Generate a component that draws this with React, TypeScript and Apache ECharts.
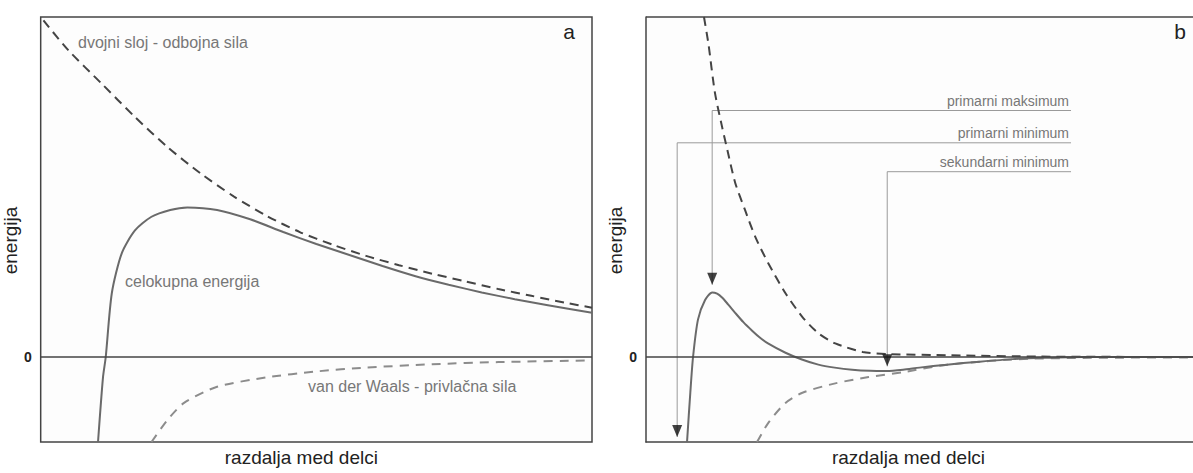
import React, { useEffect, useRef } from "react";
import * as echarts from "echarts";

// ---- data (x: relative distance 0..100, y: relative energy) ----
const repulsiveA = [[0.5,3.96],[5,3.61],[11,3.22],[17,2.83],[23,2.47],[29,2.16],[35,1.89],[41,1.66],[47,1.47],[53,1.32],[59,1.19],[65,1.08],[71,0.98],[77,0.89],[83,0.80],[89,0.72],[95,0.64],[100,0.58]];
const totalA = [[10.4,-1.0],[11.3,-0.24],[11.8,0],[12.9,0.75],[14.7,1.22],[17.1,1.49],[20.1,1.65],[23.5,1.73],[26.6,1.76],[32,1.73],[38,1.62],[44,1.47],[50,1.33],[56,1.2],[62,1.07],[68,0.95],[74,0.85],[80,0.76],[86,0.68],[92,0.61],[100,0.52]];
const vdwA = [[20.1,-1.0],[23,-0.74],[26,-0.54],[32,-0.35],[41,-0.24],[50,-0.17],[59,-0.125],[71,-0.085],[83,-0.06],[100,-0.04]];

const repulsiveB = [[10.6,4.0],[11.4,3.69],[12.6,3.11],[13.9,2.71],[15.0,2.40],[16.3,2.05],[18.1,1.73],[20.0,1.41],[22.3,1.11],[25.5,0.75],[28.6,0.47],[31.5,0.28],[34.6,0.16],[39.6,0.06],[44.3,0.035],[55.7,0.02],[72.2,0.005],[100,0]];
const totalB = [[7.5,-1.0],[8.1,-0.42],[8.6,0],[9.5,0.44],[10.8,0.67],[12.1,0.76],[13.0,0.745],[13.9,0.70],[15.0,0.62],[16.3,0.52],[17.8,0.41],[19.4,0.31],[20.8,0.23],[22.3,0.16],[25.5,0.05],[28.5,-0.03],[31.5,-0.09],[34.5,-0.125],[37.7,-0.15],[41,-0.163],[44,-0.165],[47,-0.15],[50,-0.125],[55,-0.09],[61,-0.055],[67,-0.025],[73,-0.01],[80,0],[100,0]];
const vdwB = [[20.3,-1.0],[22.3,-0.78],[25.5,-0.54],[28.6,-0.42],[34.6,-0.31],[40.7,-0.235],[46.9,-0.18],[55.1,-0.09],[70.3,-0.02],[100,-0.005]];

const annoMaxB = [[77.7,2.90],[12.1,2.90],[12.1,0.85]];
const annoPrimMinB = [[77.7,2.52],[5.7,2.52],[5.7,-0.94]];
const annoSecMinB = [[77.7,2.18],[44.1,2.18],[44.1,-0.11]];
const arrowTipsB = [[12.1,0.85],[5.7,-0.94],[44.1,-0.11]];

const yTicks = [-1, 0, 1, 2, 3, 4];
const xAxisTitle = "razdalja med delci";
const yAxisTitle = "energija";
const annoLabels = ["primarni maksimum", "primarni minimum", "sekundarni minimum"];
const panelLabels = ["a", "b"];
const curveLabelsA = ["dvojni sloj - odbojna sila", "celokupna energija", "van der Waals - privlačna sila"];

const FONT = "Liberation Sans, Arial, Helvetica, sans-serif";

export default function App() {
  const ref = useRef<HTMLDivElement>(null);
  useEffect(() => {
    if (!ref.current) return;
    const chart = echarts.init(ref.current, null, { renderer: "svg" });
    const axisLine = { show: true, onZero: false, lineStyle: { color: "#444", width: 1.5 } };
    const mkX = (gi: number, pad: number) => ({
      type: "value", gridIndex: gi, min: 0, max: 100,
      axisLine: gi === 1 ? axisLine : { show: false },
      axisTick: { show: false }, axisLabel: { show: false }, splitLine: { show: false },
      name: xAxisTitle, nameLocation: "middle", nameGap: 6,
      nameTextStyle: { fontSize: 19, color: "#222", fontFamily: FONT, padding: [0, pad, 0, 0] },
    });
    const mkY = (gi: number) => ({
      type: "value", gridIndex: gi, min: yTicks[0], max: yTicks[yTicks.length - 1], interval: 1,
      axisLine: gi === 1 ? axisLine : { show: false },
      axisTick: { show: false }, splitLine: { show: false },
      axisLabel: { formatter: (v: number) => (v === 0 ? "0" : ""), fontSize: 14, fontWeight: "bold", color: "#222", fontFamily: FONT, margin: 9 },
      name: yAxisTitle, nameLocation: "middle", nameRotate: 90, nameGap: 10,
      nameTextStyle: { fontSize: 19, color: "#222", fontFamily: FONT, padding: [0, 22, 0, 0] },
    });
    const refLines = (withTop: boolean) => ({
      silent: true, symbol: "none", label: { show: false },
      lineStyle: { color: "#444", width: 1.5, type: "solid" },
      data: withTop ? [{ yAxis: 0 }, { yAxis: yTicks[yTicks.length - 1] }] : [{ yAxis: 0 }],
    });
    const curve = (gi: number, data: number[][], color: string, type: any, extra: any = {}) => ({
      type: "line", xAxisIndex: gi, yAxisIndex: gi, data, smooth: 0.25,
      showSymbol: false, symbol: "none",
      lineStyle: { color, width: 2, type }, clip: true, z: 3, ...extra,
    });
    const anno = (data: number[][]) => ({
      type: "line", xAxisIndex: 1, yAxisIndex: 1, data, showSymbol: false, symbol: "none",
      lineStyle: { color: "#9a9a9a", width: 1 }, z: 2,
    });
    chart.setOption({
      animation: false,
      backgroundColor: "#fff",
      grid: [
        { left: 35, top: 17, width: 557, height: 425, show: true, borderColor: "#444", borderWidth: 1.5, backgroundColor: "#fdfdfd" },
        { left: 646, top: 17, width: 548, height: 425, show: true, borderWidth: 0, backgroundColor: "#fdfdfd" },
      ],
      xAxis: [mkX(0, 30), mkX(1, 22)],
      yAxis: [mkY(0), mkY(1)],
      series: [
        curve(0, repulsiveA, "#444", [9, 6], { markLine: refLines(false) }),
        curve(0, vdwA, "#8c8c8c", [9, 7]),
        curve(0, totalA, "#6a6a6a", "solid"),
        curve(1, repulsiveB, "#444", [9, 6], { markLine: refLines(true) }),
        curve(1, vdwB, "#8c8c8c", [9, 7]),
        curve(1, totalB, "#6a6a6a", "solid"),
        anno(annoMaxB),
        anno(annoPrimMinB),
        anno(annoSecMinB),
        {
          type: "scatter", xAxisIndex: 1, yAxisIndex: 1, data: arrowTipsB,
          symbol: "path://M0,0L10,0L5,12Z", symbolSize: [10, 12], symbolOffset: [0, "-50%"],
          itemStyle: { color: "#111" }, z: 5, silent: true,
        },
      ],
      graphic: [
        { type: "text", left: 78, top: 34, style: { text: curveLabelsA[0], fontSize: 16, fill: "#777", fontFamily: FONT } },
        { type: "text", left: 125, top: 273, style: { text: curveLabelsA[1], fontSize: 16, fill: "#777", fontFamily: FONT } },
        { type: "text", left: 308, top: 378, style: { text: curveLabelsA[2], fontSize: 16, fill: "#777", fontFamily: FONT } },
        { type: "text", x: 569, y: 31, style: { text: panelLabels[0], fontSize: 21, fill: "#222", fontFamily: FONT, align: "center", verticalAlign: "middle" } },
        { type: "text", x: 1180, y: 31, style: { text: panelLabels[1], fontSize: 21, fill: "#222", fontFamily: FONT, align: "center", verticalAlign: "middle" } },
        { type: "text", x: 1069, y: 108, style: { text: annoLabels[0], fontSize: 14, fill: "#777", fontFamily: FONT, align: "right", verticalAlign: "bottom" } },
        { type: "text", x: 1069, y: 140, style: { text: annoLabels[1], fontSize: 14, fill: "#777", fontFamily: FONT, align: "right", verticalAlign: "bottom" } },
        { type: "text", x: 1069, y: 169, style: { text: annoLabels[2], fontSize: 14, fill: "#777", fontFamily: FONT, align: "right", verticalAlign: "bottom" } },
      ],
    });
    return () => chart.dispose();
  }, []);
  return <div ref={ref} style={{ position: "absolute", left: 0, top: 0, width: 1193, height: 473 }} />;
}
